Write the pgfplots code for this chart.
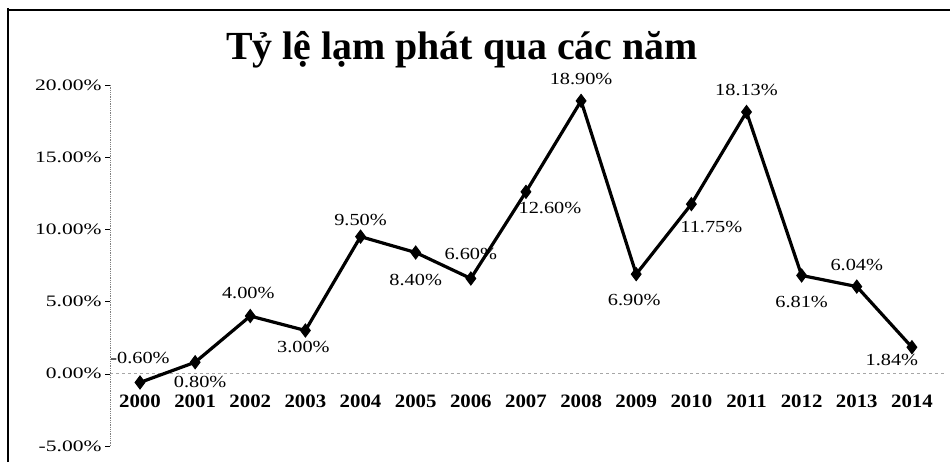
\documentclass[border=0pt]{standalone}
\usepackage{pgfplots}
\pgfplotsset{compat=1.18}
\usepackage{pgfplotstable}
\usepackage{fontspec}
\setmainfont{Liberation Serif}
\newfontfamily\lblfont[FakeStretch=1.2]{Liberation Serif}
\newfontfamily\tickfont[FakeStretch=1.35]{Liberation Serif}
\newfontfamily\xfont[FakeStretch=1.1]{Liberation Serif}

\pgfplotstableread{
x y dx dy
0 -0.60 0 24
1 0.80 5 -20
2 4.00 -2 23
3 3.00 -2 -17
4 9.50 0 17
5 8.40 0 -27
6 6.60 0 25
7 12.60 24 -16
8 18.90 0 22
9 6.90 -2 -26
10 11.75 20 -23
11 18.13 0 22
12 6.81 0 -27
13 6.04 0 22
14 1.84 -20 -13
}\inflation

\begin{document}
\begin{tikzpicture}
\path[use as bounding box] (-110bp,-21bp) rectangle (840bp,446bp);
\begin{axis}[
  scale only axis, width=835bp, height=361bp,
  xmin=-0.544, xmax=14.6, ymin=-5, ymax=20,
  axis x line=middle, axis y line=left,
  x axis line style={-, draw=gray!70, dashed, line width=0.8pt},
  y axis line style={-, draw=gray, densely dotted, line width=0.8pt},
  xtick={0,1,...,14},
  xticklabels={2000,2001,2002,2003,2004,2005,2006,2007,2008,2009,2010,2011,2012,2013,2014},
  xticklabel style={font=\xfont\bfseries\fontsize{19}{19}\selectfont, yshift=-13bp},
  x tick style={draw=none},
  ytick={-5,0,5,10,15,20},
  yticklabels={-5.00\%,0.00\%,5.00\%,10.00\%,15.00\%,20.00\%},
  yticklabel style={font=\tickfont\fontsize{16}{16}\selectfont},
  y tick style={black, line width=0.6pt},
  tick align=outside, major tick length=5bp,
  clip=false,
]
\addplot[black, line width=3.2bp, mark=diamond*, mark size=6.5bp,
  mark options={fill=black, solid, line width=1pt},
  point meta=\thisrow{y},
  visualization depends on={\thisrow{dx} \as \dx},
  visualization depends on={\thisrow{dy} \as \dy},
  nodes near coords={\pgfmathprintnumber[fixed,fixed zerofill,precision=2,assume math mode=true]{\pgfplotspointmeta}\%},
  every node near coord/.append style={anchor=center, xshift=\dx bp, yshift=\dy bp, black, font=\lblfont\fontsize{17}{17}\selectfont},
] table[x=x, y=y] {\inflation};
\end{axis}
\node[font=\bfseries\fontsize{40}{40}\selectfont] at (352bp,396bp) {Tỷ lệ lạm phát qua các năm};
\draw[line width=1.5bp] (-102bp,-16bp) -- (-102bp,438bp);
\draw[line width=1.2bp] (-102bp,436bp) -- (840bp,436bp);
\end{tikzpicture}
\end{document}
